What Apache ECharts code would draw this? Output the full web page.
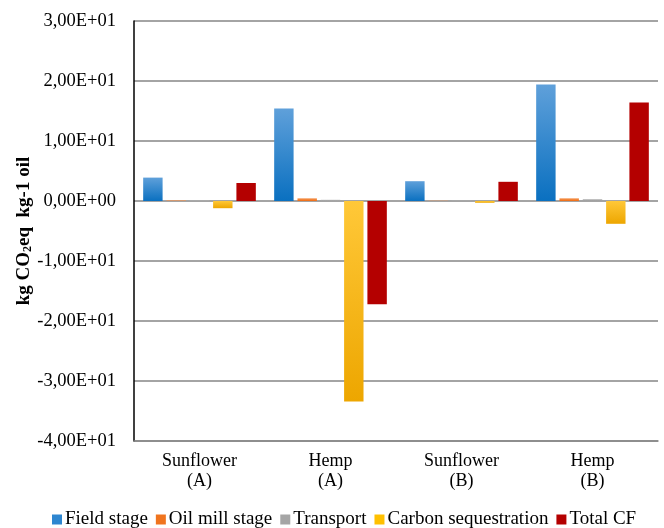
<!DOCTYPE html>
<html>
<head>
<meta charset="utf-8">
<script src="https://cdn.jsdelivr.net/npm/echarts@6/dist/echarts.min.js"></script>
<style>
  html, body { margin: 0; padding: 0; background: #fff; }
  #main { width: 664px; height: 528px; }
</style>
</head>
<body>
<div id="main"></div>
<script>
// 类别和数据
var categories = ['Sunflower\n(A)', 'Hemp\n(A)', 'Sunflower\n(B)', 'Hemp\n(B)'];
var fieldStage = [3.9, 15.4, 3.3, 19.4];
var oilMillStage = [0.1, 0.45, 0.05, 0.45];
var transport = [0.05, 0.2, 0.03, 0.3];
var carbonSeq = [-1.2, -33.4, -0.3, -3.8];
var totalCF = [3.0, -17.2, 3.2, 16.4];
var seriesNames = ['Field stage', 'Oil mill stage', 'Transport', 'Carbon sequestration', 'Total CF'];

var FONT = '"Liberation Serif", "Times New Roman", serif';

function grad(top, bottom) {
    return new echarts.graphic.LinearGradient(0, 0, 0, 1, [
        { offset: 0, color: top },
        { offset: 1, color: bottom }
    ]);
}

function barSeries(name, data, cTop, cBottom, legendColor) {
    return {
        name: name,
        type: 'bar',
        barGap: '20%',
        barCategoryGap: '14%',
        data: data.map(function (v) {
            return { value: v, itemStyle: { color: grad(cTop, cBottom) } };
        }),
        itemStyle: {
            color: legendColor
        }
    };
}

var myChart = echarts.init(document.getElementById('main'));

var option = {
    animation: false,
    backgroundColor: '#fff',
    textStyle: { fontFamily: FONT },
    grid: { left: 134, right: 6, top: 21, bottom: 87, outerBoundsMode: 'none' },
    legend: {
        top: 505,
        left: 47,
        itemWidth: 10,
        itemHeight: 10,
        itemGap: 8,
        icon: 'rect',
        textStyle: { fontFamily: FONT, fontSize: 19, color: '#000', padding: [0, 0, 0, -2] },
        data: seriesNames
    },
    xAxis: {
        type: 'category',
        data: categories,
        axisLine: { onZero: false, lineStyle: { color: '#868686', width: 1.5 } },
        axisTick: { show: false },
        axisLabel: { fontFamily: FONT, fontSize: 18, color: '#000', margin: 10, lineHeight: 20 }
    },
    yAxis: {
        type: 'value',
        min: -40,
        max: 30,
        interval: 10,
        name: '{b|kg CO}{s|2}{b|eq  kg-1 oil}',
        nameLocation: 'middle',
        nameGap: 100,
        nameMoveOverlap: false,
        nameTextStyle: {
            rich: {
                b: { fontFamily: FONT, fontSize: 19, fontWeight: 'bold', color: '#000' },
                s: { fontFamily: FONT, fontSize: 12, fontWeight: 'bold', color: '#000', verticalAlign: 'bottom', padding: [7, 0, 0, 0] }
            }
        },
        axisLine: { show: true, lineStyle: { color: '#000', width: 1.5 } },
        axisTick: { show: false },
        splitLine: { lineStyle: { color: '#868686', width: 1.5 } },
        axisLabel: {
            fontFamily: FONT,
            fontSize: 18.5,
            color: '#000',
            margin: 18,
            formatter: function (v) {
                var s = (Math.abs(v) / 10).toFixed(2).replace('.', ',');
                var e = v === 0 ? 'E+00' : 'E+01';
                return (v < 0 ? '-' : '') + s + e;
            }
        }
    },
    series: [
        barSeries(seriesNames[0], fieldStage, '#5FA0DA', '#0A70C0', '#2E86D0'),
        barSeries(seriesNames[1], oilMillStage, '#F59A5A', '#EE6A10', '#F0741E'),
        barSeries(seriesNames[2], transport, '#B5B5B5', '#9A9A9A', '#A5A5A5'),
        barSeries(seriesNames[3], carbonSeq, '#FFC838', '#EDA600', '#FFC000'),
        barSeries(seriesNames[4], totalCF, '#B40000', '#B40000', '#B40000')
    ]
};

myChart.setOption(option);
</script>
</body>
</html>
